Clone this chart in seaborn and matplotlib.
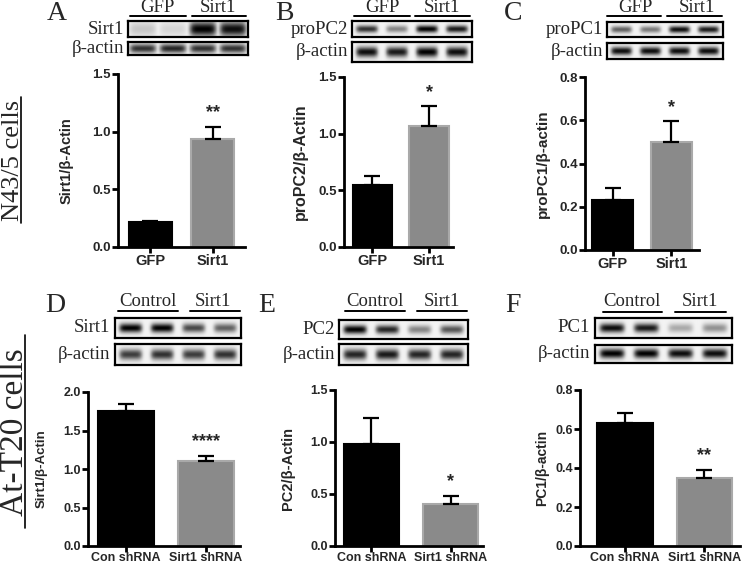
import numpy as np
import pandas as pd
import matplotlib
matplotlib.use("Agg")
import matplotlib.pyplot as plt
import seaborn as sns
from matplotlib.lines import Line2D

sns.set_style("ticks")
plt.rcParams['font.family'] = ['Liberation Sans', 'DejaVu Sans']

# ---------------- data ----------------
groups_top = ["GFP", "Sirt1"]
groups_bot = ["Con shRNA", "Sirt1 shRNA"]

A_vals = [0.22, 0.94]; A_err = [0.005, 0.10]
B_vals = [0.55, 1.07]; B_err = [0.08, 0.17]
C_vals = [0.23, 0.50]; C_err = [0.055, 0.095]
D_vals = [1.75, 1.10]; D_err = [0.09, 0.07]
E_vals = [0.98, 0.40]; E_err = [0.25, 0.08]
F_vals = [0.63, 0.35]; F_err = [0.05, 0.04]

A_yticks = [0.0, 0.5, 1.0, 1.5]
B_yticks = [0.0, 0.5, 1.0, 1.5]
C_yticks = [0.0, 0.2, 0.4, 0.6, 0.8]
D_yticks = [0.0, 0.5, 1.0, 1.5, 2.0]
E_yticks = [0.0, 0.5, 1.0, 1.5]
F_yticks = [0.0, 0.2, 0.4, 0.6, 0.8]

A_sig = "**"; B_sig = "*"; C_sig = "*"; D_sig = "****"; E_sig = "*"; F_sig = "**"

A_ylabel = "Sirt1/β-Actin"
B_ylabel = "proPC2/β-Actin"
C_ylabel = "proPC1/β-actin"
D_ylabel = "Sirt1/β-Actin"
E_ylabel = "PC2/β-Actin"
F_ylabel = "PC1/β-actin"

# blot band darkness per lane (4 lanes)
A_blot_target = [0.18, 0.12, 1.0, 0.95]; A_blot_actin = [0.80, 0.85, 0.80, 0.80]
B_blot_target = [0.80, 0.45, 1.0, 0.90]; B_blot_actin = [0.95, 0.90, 1.0, 0.95]
C_blot_target = [0.60, 0.50, 0.95, 0.90]; C_blot_actin = [0.95, 0.95, 0.95, 0.95]
D_blot_target = [1.0, 1.0, 0.70, 0.60]; D_blot_actin = [0.75, 0.80, 0.75, 0.80]
E_blot_target = [1.0, 0.85, 0.45, 0.65]; E_blot_actin = [0.85, 0.90, 0.85, 0.85]
F_blot_target = [0.95, 0.90, 0.30, 0.40]; F_blot_actin = [1.0, 1.0, 0.95, 0.95]

# ---------------- layout helpers ----------------
W, H = 745, 565
fig = plt.figure(figsize=(W / 100, H / 100), dpi=100)

def box(l, t, r, b):
    return [l / W, 1 - b / H, (r - l) / W, (b - t) / H]

def fx(x):
    return x / W

def fy(y):
    return 1 - y / H

BLACK = "#000000"
GRAY = "#8a8a8a"
GRAY_EDGE = "#a9a9a9"

def bar_panel(rect, groups, vals, errs, yticks, ylabel, sig, xlim,
              ylabel_size, ylabel_x, xtick_size, ytick_size, xpad=1):
    ax = fig.add_axes(box(*rect))
    df = pd.DataFrame({"group": groups, "value": vals})
    sns.barplot(data=df, x="group", y="value", hue="group",
                palette=[BLACK, GRAY], width=0.7, errorbar=None,
                legend=False, ax=ax, saturation=1)
    for p, ec in zip(ax.patches, [BLACK, GRAY_EDGE]):
        p.set_edgecolor(ec)
        p.set_linewidth(1.5)
    pos = np.arange(len(groups))
    ax.errorbar(pos, vals, yerr=[np.zeros(len(errs)), errs], fmt="none",
                ecolor=BLACK, elinewidth=1.6, capsize=6, capthick=1.6,
                zorder=3)
    ax.annotate(sig, xy=(pos[1], vals[1] + errs[1]), xytext=(0, 4),
                textcoords="offset points", ha="center", va="bottom",
                fontsize=13, fontweight="bold")
    ax.set_ylim(yticks[0], yticks[-1])
    ax.set_yticks(yticks)
    ax.set_yticklabels([f"{t:.1f}" for t in yticks])
    ax.set_xlim(*xlim)
    ax.set_xlabel("")
    ax.set_ylabel("")
    fig.text(fx(ylabel_x), 1 - (rect[1] + rect[3]) / 2 / H, ylabel,
             rotation=90, ha="center", va="center",
             fontsize=ylabel_size, fontweight="bold")
    for s in ["top", "right"]:
        ax.spines[s].set_visible(False)
    for s in ["left", "bottom"]:
        ax.spines[s].set_linewidth(2.0)
        ax.spines[s].set_color(BLACK)
    ax.tick_params(axis="both", width=2.0, length=4, color=BLACK, pad=1)
    ax.tick_params(axis="x", pad=xpad)
    ax.tick_params(axis="y", labelsize=ytick_size)
    ax.tick_params(axis="x", labelsize=xtick_size)
    for lab in ax.get_xticklabels() + ax.get_yticklabels():
        lab.set_fontweight("bold")
    return ax

def blot_strip(rect, lanes, band_h=0.45, band_w=0.36, blur=1.0):
    ax = fig.add_axes(box(*rect))
    nx, ny = 200, 40
    xs = (np.arange(nx) + 0.5) / nx
    ys = (np.arange(ny) + 0.5) / ny
    X, Y = np.meshgrid(xs, ys)
    img = np.zeros_like(X)
    n = len(lanes)
    for i, d in enumerate(lanes):
        cx = (i + 0.5) / n
        gx = np.exp(-((X - cx) / (band_w / n)) ** 6 * blur)
        gy = np.exp(-((Y - 0.5) / (band_h / 2)) ** 2)
        img = np.maximum(img, d * gx * gy)
    ax.imshow(img, cmap="gray_r", vmin=-0.05, vmax=1.0, aspect="auto",
              interpolation="bilinear")
    ax.set_xticks([]); ax.set_yticks([])
    for s in ax.spines.values():
        s.set_linewidth(1.6)
        s.set_color(BLACK)
    return ax

SERIF = "Liberation Serif"

def blot_panel(letter, letter_xy, s1, s2, name1, lanes1, lanes2, lab_x,
               glabels, gcenters, gunder, gy, uy, band_h1=0.45, band_h2=0.5,
               blur=1.0, lab_size=13.5):
    fig.text(fx(letter_xy[0]), fy(letter_xy[1]), letter, family=SERIF,
             fontsize=20, ha="center", va="center")
    blot_strip(s1, lanes1, band_h=band_h1, blur=blur)
    blot_strip(s2, lanes2, band_h=band_h2, blur=blur)
    fig.text(fx(lab_x), fy((s1[1] + s1[3]) / 2), name1, family=SERIF,
             fontsize=lab_size, ha="right", va="center")
    fig.text(fx(lab_x), fy((s2[1] + s2[3]) / 2), "β-actin", family=SERIF,
             fontsize=lab_size, ha="right", va="center")
    for g, c, (u0, u1) in zip(glabels, gcenters, gunder):
        fig.text(fx(c), fy(gy), g, family=SERIF, fontsize=lab_size,
                 ha="center", va="center")
        fig.add_artist(Line2D([fx(u0), fx(u1)], [fy(uy), fy(uy)],
                              color=BLACK, linewidth=1.4))

# ---------------- top row ----------------
bar_panel((118, 74, 245, 247), groups_top, A_vals, A_err, A_yticks, A_ylabel,
          A_sig, (-0.52, 1.52), 10.5, 67, 10.5, 9.5)
bar_panel((344, 77, 453, 247), groups_top, B_vals, B_err, B_yticks, B_ylabel,
          B_sig, (-0.5, 1.42), 11.5, 300, 10.5, 9.5)
bar_panel((585, 77, 699, 250), groups_top, C_vals, C_err, C_yticks, C_ylabel,
          C_sig, (-0.47, 1.47), 11, 543, 10.5, 9.5)

blot_panel("A", (57, 14), (128, 21, 248, 37), (128, 42, 248, 55), "Sirt1",
           A_blot_target, A_blot_actin, 124, ["GFP", "Sirt1"], [157, 218],
           [(130, 186), (192, 246)], 8, 16, band_h1=0.9, band_h2=0.7, blur=0.3)
blot_panel("B", (284, 14), (352, 21, 472, 37), (352, 42, 472, 62), "proPC2",
           B_blot_target, B_blot_actin, 348, ["GFP", "Sirt1"], [382, 442],
           [(354, 410), (415, 470)], 8, 16)
blot_panel("C", (513, 14), (607, 22, 723, 37), (607, 43, 723, 59), "proPC1",
           C_blot_target, C_blot_actin, 603, ["GFP", "Sirt1"], [635, 697],
           [(607, 661), (667, 722)], 8, 16)

# ---------------- bottom row ----------------
bar_panel((88, 392, 240, 546), groups_bot, D_vals, D_err, D_yticks, D_ylabel,
          D_sig, (-0.48, 1.43), 9.5, 42, 9, 9, xpad=0)
bar_panel((335, 390, 483, 546), groups_bot, E_vals, E_err, E_yticks, E_ylabel,
          E_sig, (-0.46, 1.41), 10.5, 288, 9, 9, xpad=0)
bar_panel((580, 390, 740, 546), groups_bot, F_vals, F_err, F_yticks, F_ylabel,
          F_sig, (-0.57, 1.45), 10, 542, 9, 9, xpad=0)

blot_panel("D", (55, 305), (115, 318, 241, 338), (115, 344, 241, 365), "Sirt1",
           D_blot_target, D_blot_actin, 110, ["Control", "Sirt1"], [148, 213],
           [(118, 178), (190, 240)], 302, 311)
blot_panel("E", (267, 305), (339, 320, 468, 339), (339, 344, 468, 365), "PC2",
           E_blot_target, E_blot_actin, 335, ["Control", "Sirt1"], [375, 442],
           [(345, 405), (417, 467)], 302, 311)
blot_panel("F", (513, 305), (595, 318, 732, 338), (595, 345, 732, 363), "PC1",
           F_blot_target, F_blot_actin, 590, ["Control", "Sirt1"], [632, 700],
           [(603, 662), (675, 726)], 302, 312)

# ---------------- side labels ----------------
fig.text(fx(19), fy(160), "N43/5 cells", family=SERIF, fontsize=19,
         rotation=90, rotation_mode="anchor", ha="center", va="baseline")
fig.add_artist(Line2D([fx(21), fx(21)], [fy(97), fy(223)], color=BLACK,
                      linewidth=1.2))
fig.text(fx(23), fy(432), "At-T20 cells", family=SERIF, fontsize=24,
         rotation=90, rotation_mode="anchor", ha="center", va="baseline")
fig.add_artist(Line2D([fx(25), fx(25)], [fy(335), fy(528)], color=BLACK,
                      linewidth=1.2))

fig.savefig("out.png", dpi=100)
